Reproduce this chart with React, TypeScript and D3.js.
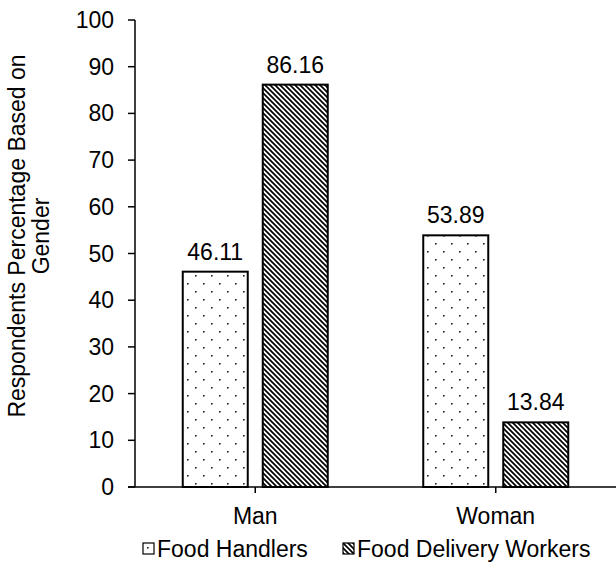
import React from "react";
import * as d3 from "d3";

// Share of respondents by gender for each group
const categories = ["Man", "Woman"];
const seriesNames = ["Food Handlers", "Food Delivery Workers"];
const foodHandlers = [46.11, 53.89];
const deliveryWorkers = [86.16, 13.84];
const yTicks = [0, 10, 20, 30, 40, 50, 60, 70, 80, 90, 100];

const W = 616;
const H = 566;
const FONT = "'Liberation Sans', Arial, sans-serif";
const FS = 23;

const plot = { left: 135, right: 616, top: 20, bottom: 487 };

export default function App() {
  const x0 = d3.scaleBand<string>().domain(categories).range([plot.left, plot.right]);
  const x1 = d3
    .scaleBand<string>()
    .domain(seriesNames)
    .range([-72.5, 72.5])
    .paddingInner(0.1875)
    .paddingOuter(0);
  const y = d3.scaleLinear().domain([0, 100]).range([plot.bottom, plot.top]);

  const seriesValues = [foodHandlers, deliveryWorkers];
  const fills = ["url(#dots)", "url(#hatch)"];

  const bars = categories.flatMap((cat, ci) =>
    seriesNames.map((s, si) => {
      const v = seriesValues[si][ci];
      const cx = (x0(cat) ?? 0) + x0.bandwidth() / 2;
      const bx = cx + (x1(s) ?? 0);
      return { cat, s, si, v, bx, bw: x1.bandwidth() };
    })
  );

  const legendItems = [
    { name: seriesNames[0], fill: fills[0], mx: 143 },
    { name: seriesNames[1], fill: fills[1], mx: 343 },
  ];

  const titleCenter = 236;

  return (
    <svg
      width={W}
      height={H}
      style={{ position: "absolute", left: 0, top: 0, background: "#fff" }}
      fontFamily={FONT}
      fontSize={FS}
    >
      <defs>
        <pattern id="dots" width={16} height={16} patternUnits="userSpaceOnUse">
          <rect width={16} height={16} fill="#fff" />
          <rect x={3} y={3} width={1.6} height={1.6} fill="#222" />
          <rect x={11} y={11} width={1.6} height={1.6} fill="#222" />
        </pattern>
        <pattern id="hatch" width={5} height={5} patternUnits="userSpaceOnUse">
          <rect width={5} height={5} fill="#fff" />
          <path d="M-1,-1 L6,6 M-1,4 L1,6 M4,-1 L6,1" stroke="#000" strokeWidth={1.7} />
        </pattern>
      </defs>

      {/* bars */}
      {bars.map((b) => (
        <rect
          key={b.cat + b.s}
          x={b.bx}
          y={y(b.v)}
          width={b.bw}
          height={y(0) - y(b.v)}
          fill={fills[b.si]}
          stroke="#000"
          strokeWidth={2}
        />
      ))}

      {/* value labels */}
      {bars.map((b) => (
        <text
          key={"l" + b.cat + b.s}
          x={b.bx + b.bw / 2}
          y={y(b.v) - 12}
          textAnchor="middle"
          fill="#000"
        >
          {b.v.toFixed(2)}
        </text>
      ))}

      {/* y axis */}
      <line x1={plot.left} x2={plot.left} y1={plot.top} y2={plot.bottom} stroke="#000" strokeWidth={1.5} />
      {yTicks.map((t) => (
        <g key={t}>
          <line x1={plot.left - 7} x2={plot.left} y1={y(t)} y2={y(t)} stroke="#000" strokeWidth={1.5} />
          <text x={plot.left - 21} y={y(t)} dy="0.35em" textAnchor="end" fill="#000">
            {t}
          </text>
        </g>
      ))}

      {/* x axis */}
      <line x1={plot.left - 7} x2={plot.right} y1={plot.bottom} y2={plot.bottom} stroke="#000" strokeWidth={1.5} />
      {categories.map((c) => {
        const cx = (x0(c) ?? 0) + x0.bandwidth() / 2;
        return (
          <g key={c}>
            <line x1={cx} x2={cx} y1={plot.bottom} y2={plot.bottom + 6} stroke="#000" strokeWidth={1.5} />
            <text x={cx} y={524} textAnchor="middle" fill="#000">
              {c}
            </text>
          </g>
        );
      })}

      {/* y axis title */}
      <g transform={`translate(0, ${titleCenter}) rotate(-90)`}>
        <text x={0} y={25} textAnchor="middle" fill="#000">
          Respondents Percentage Based on
        </text>
        <text x={0} y={49} textAnchor="middle" fill="#000">
          Gender
        </text>
      </g>

      {/* legend */}
      {legendItems.map((it) => (
        <g key={it.name}>
          <rect x={it.mx} y={543} width={11} height={11} fill={it.fill} stroke="#000" strokeWidth={1.2} />
          <text x={it.mx + 14} y={557} fill="#000">
            {it.name}
          </text>
        </g>
      ))}
    </svg>
  );
}
